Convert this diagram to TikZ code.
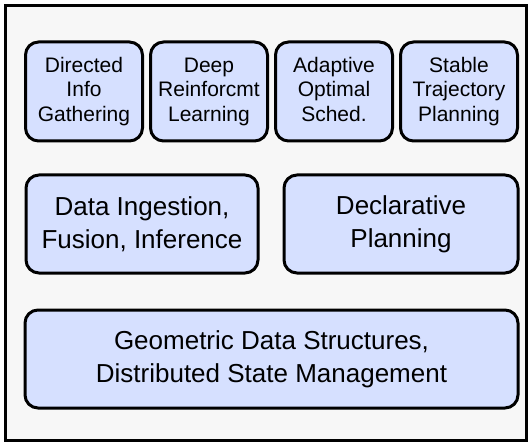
\documentclass[tikz,border=0pt]{standalone}
\usepackage{fontspec}
\setmainfont{Liberation Sans}
\definecolor{boxfill}{HTML}{D6E0FF}
\definecolor{panelgray}{HTML}{F7F7F7}
\begin{document}
\begin{tikzpicture}[x=1pt, y=-1pt,
	layer/.style={draw, line width=3pt, rounded corners=13pt, fill=boxfill, align=center, inner sep=0pt},
	small/.style={layer, minimum width=117pt, minimum height=99pt, font=\fontsize{21}{24.5}\selectfont, execute at end node=\vphantom{g}},
	wide/.style={layer, minimum height=98pt, font=\fontsize{26}{33}\selectfont}]
	\useasboundingbox (0,0) rectangle (532,446);
	\draw[line width=3pt, fill=panelgray] (5.5,5.5) rectangle (526.5,440.5);
	\foreach[count=\i] \ltext in {{Directed\\Info\\Gathering},{Deep\\Reinforcmt\\Learning},{Adaptive\\Optimal\\Sched.},{Stable\\Trajectory\\Planning}} {
		\node[small] (top-\i) at ({84+125*(\i-1)},91.5) {\ltext};
	}
	\node[wide, minimum width=232pt] (ingest) at (142,224) {Data Ingestion,\\Fusion, Inference};
	\node[wide, minimum width=234pt] (decl) at (401,224) {Declarative\\Planning};
	\node[wide, minimum width=493pt] (geom) at (271.5,359) {Geometric Data Structures,\\Distributed State Management};
\end{tikzpicture}
\end{document}
